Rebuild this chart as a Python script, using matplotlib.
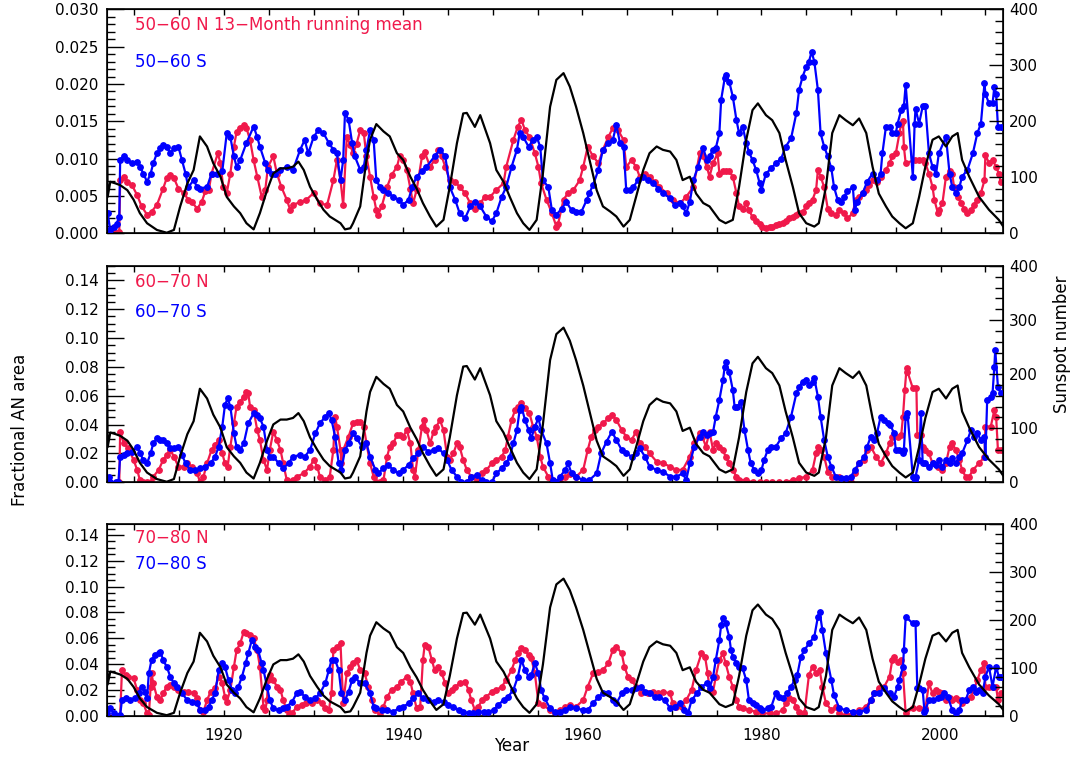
import matplotlib
matplotlib.use('Agg')
import matplotlib.pyplot as plt
from matplotlib.ticker import MultipleLocator, FormatStrFormatter

plt.rcParams['font.family'] = ['DejaVu Sans']

RED = '#F0194B'
BLUE = '#0000FF'

# ---------------- data ----------------
# 13-month smoothed sunspot number (right axis)
SSN = [(1906.95,178),(1907.0,65),(1907.3,92),(1907.9,89),(1908.4,86),(1909.2,77),(1909.9,60),(1910.6,36),
       (1911.4,18),(1912.5,6),(1913.6,1),(1914.4,6),(1915.1,48),(1915.9,89),(1916.6,113),(1917.3,173),
       (1918.1,155),(1918.8,125),(1919.6,101),(1920.3,65),(1921.1,48),(1921.8,36),(1922.5,18),(1923.3,7),
       (1924.0,36),(1924.8,77),(1925.5,107),(1926.3,116),(1927.0,116),(1927.7,119),(1928.3,128),(1928.9,113),
       (1929.6,83),(1930.4,60),(1931.1,42),(1931.8,30),(1933.0,18),(1933.5,7),(1934.1,9),(1934.4,18),
       (1935.2,48),(1935.9,131),(1936.3,167),(1937.0,195),(1937.8,182),(1938.5,173),(1939.3,143),(1940.0,131),
       (1940.8,101),(1941.5,80),(1942.2,54),(1943.0,30),(1943.7,12),(1944.5,24),(1945.2,83),(1946.0,161),
       (1946.7,214),(1947.1,215),(1948.0,190),(1948.6,211),(1949.3,179),(1949.7,161),(1950.4,113),(1951.2,92),
       (1951.9,65),(1952.7,36),(1953.4,18),(1954.1,6),(1954.9,24),(1955.6,107),(1956.4,226),(1957.1,274),
       (1957.9,286),(1958.6,262),(1959.3,226),(1960.1,179),(1960.8,131),(1961.6,77),(1962.3,48),(1963.1,39),
       (1963.8,30),(1964.6,12),(1965.3,24),(1966.0,65),(1966.8,113),(1967.5,143),(1968.3,155),(1969.0,149),
       (1969.8,146),(1970.5,131),(1971.2,95),(1972.0,101),(1972.7,71),(1973.5,54),(1974.2,48),(1975.3,24),
       (1976.0,18),(1976.8,24),(1977.5,83),(1978.3,167),(1979.0,220),(1979.6,232),(1980.5,211),(1981.2,202),
       (1982.0,179),(1982.7,131),(1983.5,83),(1984.2,36),(1985.0,18),(1985.9,12),(1986.4,18),(1987.2,83),
       (1987.9,179),(1988.7,211),(1989.4,202),(1990.2,193),(1990.9,205),(1991.7,179),(1992.4,119),(1993.1,71),
       (1993.9,48),(1994.6,30),(1995.4,18),(1996.1,9),(1996.9,18),(1997.6,65),(1998.3,119),(1999.1,167),
       (1999.8,173),(2000.6,155),(2001.3,173),(2001.9,179),(2002.4,131),(2003.2,101),(2004.3,65),(2005.4,42),
       (2006.5,24),(2007.0,12)]

# 50-60 degrees, north and south (fractional AN area)
N5060 = [(1906.9,.0002),(1907.7,.0002),(1908.3,.0002),(1908.4,.0071),(1908.8,.0076),(1909.2,.0069),(1909.7,.0065),
         (1910.3,.0051),(1910.8,.0036),(1911.4,.0025),(1911.9,.0029),(1912.5,.0038),(1913.2,.0060),(1913.6,.0074),
         (1914.0,.0078),(1914.4,.0074),(1914.9,.0060),(1915.5,.0054),(1916.0,.0045),(1916.4,.0042),(1917.0,.0033),
         (1917.5,.0042),(1917.9,.0056),(1918.3,.0058),(1918.6,.0080),(1919.3,.0107),(1919.6,.0094),(1919.9,.0062),
         (1920.3,.0054),(1920.7,.0080),(1921.1,.0116),(1921.4,.0136),(1921.8,.0141),(1922.2,.0145),(1922.5,.0141),
         (1922.9,.0125),(1923.3,.0098),(1923.7,.0076),(1924.2,.0049),(1924.6,.0058),(1924.9,.0089),(1925.5,.0103),
         (1925.9,.0080),(1926.4,.0062),(1927.0,.0045),(1927.4,.0031),(1927.7,.0038),(1928.5,.0042),(1929.2,.0045),
         (1930.0,.0054),(1930.7,.0040),(1931.5,.0038),(1932.2,.0071),(1932.6,.0098),(1933.0,.0071),(1933.3,.0038),
         (1933.7,.0129),(1934.1,.0118),(1934.4,.0107),(1934.8,.0120),(1935.2,.0138),(1935.6,.0134),(1935.9,.0103),
         (1936.3,.0076),(1936.7,.0049),(1937.0,.0031),(1937.2,.0025),(1937.6,.0036),(1938.2,.0062),(1938.7,.0078),
         (1939.3,.0089),(1939.6,.0103),(1940.0,.0098),(1940.4,.0085),(1940.8,.0060),(1941.1,.0040),(1941.5,.0058),
         (1942.1,.0103),(1942.4,.0109),(1943.0,.0089),(1943.5,.0098),(1943.9,.0112),(1944.3,.0103),(1944.7,.0089),
         (1945.2,.0071),(1945.8,.0069),(1946.3,.0062),(1946.9,.0054),(1947.5,.0040),(1948.0,.0033),(1948.6,.0040),
         (1949.1,.0049),(1949.7,.0049),(1950.4,.0058),(1951.2,.0067),(1951.5,.0089),(1952.3,.0125),(1952.8,.0143),
         (1953.2,.0152),(1953.6,.0138),(1954.1,.0129),(1954.7,.0107),(1955.1,.0089),(1955.4,.0067),(1956.0,.0045),
         (1956.6,.0027),(1957.1,.0009),(1957.3,.0013),(1957.9,.0045),(1958.4,.0054),(1959.0,.0058),(1959.7,.0071),
         (1960.1,.0089),(1960.6,.0116),(1961.2,.0103),(1961.8,.0094),(1962.3,.0112),(1962.9,.0129),(1963.4,.0141),
         (1964.0,.0138),(1964.6,.0125),(1964.9,.0089),(1965.5,.0098),(1966.0,.0089),(1966.4,.0076),(1967.0,.0080),
         (1967.5,.0076),(1968.1,.0069),(1968.6,.0062),(1969.4,.0054),(1970.1,.0045),(1970.9,.0040),(1971.6,.0049),
         (1972.4,.0062),(1973.1,.0107),(1973.5,.0103),(1973.9,.0089),(1974.2,.0076),(1974.6,.0094),(1975.1,.0107),
         (1975.3,.0080),(1975.7,.0083),(1976.0,.0083),(1976.4,.0083),(1976.8,.0076),(1977.2,.0054),(1977.5,.0036),
         (1977.9,.0033),(1978.3,.0040),(1978.6,.0031),(1979.0,.0022),(1979.4,.0016),(1979.8,.0013),(1980.1,.0009),
         (1980.5,.0007),(1980.9,.0008),(1981.2,.0009),(1981.6,.0011),(1982.0,.0013),(1982.4,.0014),(1982.7,.0016),
         (1983.1,.0020),(1983.5,.0022),(1983.9,.0025),(1984.2,.0027),(1984.6,.0029),(1985.0,.0036),(1985.3,.0040),
         (1985.7,.0045),(1986.1,.0058),(1986.3,.0085),(1986.6,.0076),(1987.0,.0062),(1987.4,.0033),(1987.8,.0027),
         (1988.3,.0025),(1988.7,.0031),(1989.2,.0027),(1989.6,.0020),(1990.2,.0027),(1990.5,.0045),(1990.9,.0049),
         (1991.3,.0054),(1991.7,.0058),(1992.0,.0065),(1992.4,.0071),(1992.9,.0069),(1993.3,.0076),(1993.9,.0085),
         (1994.3,.0094),(1994.6,.0103),(1995.0,.0107),(1995.4,.0134),(1995.6,.0147),(1995.8,.0150),(1995.9,.0116),
         (1996.1,.0094),(1997.1,.0098),(1997.6,.0098),(1998.0,.0098),(1998.3,.0094),(1998.7,.0080),(1999.1,.0062),
         (1999.3,.0045),(1999.7,.0027),(1999.8,.0031),(2000.2,.0040),(2000.6,.0076),(2001.0,.0083),(2001.3,.0080),
         (2001.5,.0062),(2001.9,.0049),(2002.3,.0040),(2002.6,.0033),(2003.0,.0027),(2003.4,.0031),(2003.7,.0038),
         (2004.1,.0045),(2004.5,.0054),(2004.9,.0071),(2005.0,.0105),(2005.4,.0094),(2005.8,.0098),(2006.2,.0089),
         (2006.5,.0080),(2006.7,.0069)]

S5060 = [(1906.9,.0004),(1907.0,.0027),(1907.3,.0004),(1907.7,.0009),(1908.0,.0013),(1908.3,.0022),(1908.4,.0098),
         (1908.8,.0103),(1909.2,.0098),(1909.7,.0094),(1910.3,.0096),(1910.6,.0089),(1911.0,.0080),(1911.4,.0069),
         (1911.8,.0080),(1912.1,.0094),(1912.5,.0107),(1912.9,.0114),(1913.2,.0118),(1913.6,.0116),(1914.0,.0107),
         (1914.4,.0114),(1914.9,.0116),(1915.3,.0098),(1915.7,.0080),(1916.0,.0062),(1916.6,.0071),(1917.0,.0062),
         (1917.3,.0060),(1918.1,.0062),(1918.6,.0080),(1919.2,.0080),(1919.8,.0083),(1920.3,.0134),(1920.7,.0129),
         (1921.1,.0103),(1921.4,.0089),(1921.8,.0098),(1922.5,.0121),(1923.3,.0143),(1923.7,.0129),(1924.0,.0116),
         (1924.6,.0094),(1924.9,.0085),(1925.3,.0080),(1925.7,.0080),(1926.3,.0085),(1927.0,.0089),(1927.7,.0085),
         (1928.5,.0112),(1929.0,.0125),(1929.4,.0107),(1930.0,.0129),(1930.5,.0138),(1931.1,.0134),(1931.7,.0121),
         (1932.2,.0112),(1932.6,.0107),(1933.0,.0071),(1933.3,.0098),(1933.5,.0161),(1933.9,.0152),(1934.3,.0121),
         (1934.6,.0103),(1935.2,.0085),(1935.6,.0089),(1935.9,.0112),(1936.3,.0138),(1936.7,.0125),(1937.0,.0071),
         (1937.4,.0062),(1937.8,.0058),(1938.3,.0054),(1938.9,.0049),(1939.5,.0045),(1940.0,.0038),(1940.6,.0045),
         (1941.0,.0062),(1941.5,.0076),(1942.1,.0083),(1942.6,.0089),(1943.5,.0103),(1944.1,.0112),(1944.7,.0103),
         (1945.2,.0062),(1945.8,.0045),(1946.3,.0027),(1946.9,.0020),(1947.5,.0036),(1948.0,.0042),(1948.6,.0036),
         (1949.3,.0022),(1949.9,.0016),(1950.4,.0027),(1951.0,.0049),(1951.5,.0062),(1952.1,.0089),(1952.7,.0112),
         (1953.0,.0134),(1953.4,.0129),(1954.0,.0116),(1954.5,.0125),(1954.9,.0129),(1955.3,.0116),(1955.6,.0071),
         (1956.2,.0062),(1956.6,.0031),(1957.1,.0025),(1957.7,.0033),(1958.2,.0042),(1958.8,.0031),(1959.3,.0029),
         (1959.9,.0029),(1960.5,.0045),(1960.8,.0054),(1961.2,.0065),(1961.8,.0085),(1962.3,.0112),(1962.9,.0121),
         (1963.4,.0125),(1963.8,.0145),(1964.2,.0121),(1964.6,.0116),(1964.9,.0058),(1965.3,.0058),(1965.7,.0062),
         (1966.2,.0071),(1966.8,.0076),(1967.3,.0071),(1967.9,.0067),(1968.5,.0060),(1969.0,.0054),(1969.8,.0047),
         (1970.3,.0038),(1970.9,.0040),(1971.2,.0036),(1971.6,.0027),(1972.0,.0042),(1972.4,.0071),(1972.9,.0089),
         (1973.5,.0114),(1973.9,.0098),(1974.2,.0103),(1974.6,.0112),(1974.9,.0114),(1975.3,.0134),(1975.5,.0179),
         (1975.9,.0208),(1976.0,.0212),(1976.4,.0203),(1976.8,.0183),(1977.2,.0152),(1977.5,.0134),(1977.9,.0143),
         (1978.3,.0121),(1978.6,.0109),(1979.0,.0098),(1979.4,.0085),(1979.8,.0067),(1980.0,.0058),(1980.5,.0080),
         (1981.1,.0087),(1981.6,.0094),(1982.2,.0100),(1982.7,.0116),(1983.3,.0127),(1983.9,.0161),(1984.2,.0192),
         (1984.6,.0210),(1985.0,.0223),(1985.3,.0230),(1985.6,.0243),(1985.9,.0230),(1986.3,.0192),(1986.6,.0134),
         (1987.0,.0116),(1987.4,.0103),(1987.8,.0087),(1988.1,.0062),(1988.5,.0045),(1988.9,.0042),(1989.2,.0049),
         (1989.6,.0056),(1990.2,.0062),(1990.4,.0031),(1990.7,.0042),(1991.3,.0054),(1991.8,.0069),(1992.4,.0080),
         (1992.9,.0071),(1993.3,.0080),(1993.5,.0107),(1993.9,.0143),(1994.3,.0143),(1994.6,.0134),(1995.0,.0134),
         (1995.2,.0147),(1995.6,.0165),(1995.9,.0170),(1996.1,.0199),(1996.9,.0076),(1997.1,.0147),(1997.2,.0167),
         (1997.6,.0147),(1998.0,.0170),(1998.3,.0170),(1998.7,.0107),(1999.1,.0089),(1999.5,.0080),(1999.8,.0107),
         (2000.6,.0129),(2001.0,.0080),(2001.3,.0062),(2001.7,.0054),(2002.1,.0062),(2002.4,.0076),(2003.0,.0085),
         (2003.6,.0107),(2004.1,.0134),(2004.5,.0147),(2004.9,.0201),(2005.0,.0187),(2005.4,.0174),(2005.8,.0174),
         (2006.0,.0196),(2006.2,.0187),(2006.4,.0143),(2006.7,.0143)]

# 60-70 degrees
N6070 = [(1906.9,.0),(1908.3,.0),(1908.4,.0351),(1908.8,.0270),(1909.3,.0236),(1909.9,.0155),(1910.3,.0086),
         (1910.6,.0016),(1911.0,.0),(1911.4,.0),(1911.8,.0),(1912.1,.0039),(1912.7,.0086),(1913.2,.0155),
         (1913.6,.0190),(1914.0,.0224),(1914.4,.0178),(1914.9,.0109),(1915.5,.0109),(1915.9,.0132),(1916.4,.0109),
         (1917.0,.0062),(1917.3,.0005),(1917.7,.0039),(1918.1,.0132),(1918.6,.0224),(1919.0,.0259),(1919.4,.0293),
         (1919.8,.0201),(1920.1,.0132),(1920.4,.0109),(1920.7,.0247),(1921.1,.0409),(1921.4,.0525),(1921.8,.0559),
         (1922.2,.0594),(1922.5,.0628),(1922.7,.0617),(1922.9,.0525),(1923.3,.0501),(1923.7,.0363),(1924.0,.0293),
         (1924.4,.0155),(1924.8,.0086),(1925.1,.0224),(1925.5,.0351),(1925.9,.0293),(1926.3,.0224),(1926.6,.0132),
         (1927.0,.0016),(1927.4,.0),(1927.7,.0016),(1928.1,.0039),(1928.9,.0062),(1929.6,.0109),(1930.0,.0155),
         (1930.4,.0109),(1930.7,.0039),(1931.3,.0016),(1931.8,.0039),(1932.2,.0224),(1932.4,.0455),(1932.6,.0386),
         (1933.0,.0224),(1933.1,.0132),(1933.3,.0224),(1933.9,.0317),(1934.4,.0409),(1934.8,.0421),(1935.2,.0421),
         (1935.6,.0386),(1935.9,.0270),(1936.3,.0132),(1936.7,.0039),(1937.0,.0),(1937.4,.0),(1937.8,.0016),
         (1938.2,.0178),(1938.5,.0247),(1938.9,.0270),(1939.3,.0328),(1939.6,.0328),(1940.0,.0317),(1940.4,.0363),
         (1940.8,.0270),(1941.1,.0086),(1941.3,.0039),(1941.7,.0224),(1942.1,.0386),(1942.3,.0432),(1942.6,.0363),
         (1943.0,.0270),(1943.4,.0351),(1943.7,.0386),(1944.1,.0432),(1944.5,.0363),(1944.9,.0178),(1945.2,.0155),
         (1945.6,.0201),(1946.0,.0270),(1946.3,.0247),(1946.7,.0155),(1947.1,.0086),(1947.6,.0039),(1948.2,.0016),
         (1948.8,.0062),(1949.3,.0086),(1949.9,.0132),(1950.4,.0155),(1951.0,.0178),(1951.4,.0224),(1951.7,.0317),
         (1952.1,.0432),(1952.5,.0501),(1952.8,.0525),(1953.2,.0548),(1953.6,.0513),(1954.1,.0478),(1954.5,.0386),
         (1954.9,.0317),(1955.3,.0178),(1955.6,.0109),(1956.2,.0039),(1956.6,.0),(1957.1,.0),(1957.5,.0),
         (1958.1,.0039),(1958.6,.0058),(1959.3,.0039),(1960.1,.0086),(1960.6,.0224),(1961.0,.0317),(1961.4,.0363),
         (1961.8,.0386),(1962.3,.0409),(1962.9,.0444),(1963.3,.0467),(1963.8,.0432),(1964.4,.0363),(1964.9,.0317),
         (1965.5,.0293),(1966.0,.0351),(1966.4,.0270),(1967.0,.0247),(1967.5,.0201),(1968.3,.0143),(1969.0,.0132),
         (1969.8,.0109),(1970.5,.0086),(1971.2,.0086),(1972.0,.0178),(1972.5,.0270),(1973.1,.0340),(1973.4,.0317),
         (1973.8,.0247),(1974.2,.0351),(1974.6,.0224),(1974.9,.0270),(1975.3,.0247),(1975.7,.0224),(1976.0,.0178),
         (1976.4,.0132),(1976.8,.0086),(1977.2,.0039),(1977.5,.0016),(1978.3,.0016),(1979.0,.0),(1979.8,.0),
         (1980.5,.0),(1981.2,.0),(1982.0,.0),(1982.7,.0),(1983.5,.0016),(1984.2,.0028),(1985.0,.0039),
         (1985.7,.0086),(1986.1,.0201),(1986.3,.0247),(1986.6,.0224),(1987.0,.0178),(1987.4,.0074),(1987.9,.0039),
         (1988.7,.0039),(1989.4,.0005),(1990.0,.0),(1990.4,.0062),(1990.9,.0132),(1991.5,.0155),(1991.8,.0224),
         (1992.2,.0247),(1992.8,.0178),(1993.3,.0132),(1993.9,.0201),(1994.3,.0270),(1994.6,.0317),(1995.2,.0317),
         (1995.6,.0328),(1995.8,.0455),(1996.0,.0640),(1996.2,.0790),(1996.3,.0767),(1996.9,.0652),(1997.3,.0652),
         (1997.4,.0328),(1997.8,.0328),(1998.0,.0247),(1998.3,.0224),(1998.7,.0201),(1999.1,.0132),(1999.7,.0109),
         (2000.2,.0086),(2000.6,.0132),(2001.0,.0247),(2001.3,.0270),(2001.7,.0224),(2002.1,.0155),(2002.4,.0086),
         (2002.8,.0039),(2003.2,.0039),(2003.6,.0086),(2004.3,.0132),(2004.9,.0178),(2005.0,.0386),(2005.6,.0386),
         (2006.0,.0501),(2006.2,.0455),(2006.4,.0224),(2006.7,.0224)]

S6070 = [(1906.9,.0016),(1907.1,.0039),(1907.3,.0),(1907.9,.0),(1908.2,.0),(1908.4,.0178),(1908.8,.0190),
         (1909.2,.0201),(1909.7,.0213),(1910.3,.0247),(1910.6,.0201),(1911.0,.0155),(1911.4,.0132),(1911.8,.0201),
         (1912.1,.0270),(1912.5,.0305),(1912.9,.0293),(1913.2,.0293),(1913.6,.0270),(1914.0,.0236),(1914.4,.0236),
         (1914.9,.0247),(1915.3,.0190),(1915.7,.0132),(1916.2,.0086),(1916.8,.0086),(1917.3,.0097),(1917.9,.0109),
         (1918.5,.0132),(1919.0,.0178),(1919.4,.0247),(1919.8,.0386),(1920.1,.0536),(1920.4,.0582),(1920.7,.0525),
         (1921.1,.0340),(1921.4,.0247),(1921.8,.0224),(1922.2,.0270),(1922.7,.0409),(1923.3,.0478),(1923.7,.0467),
         (1924.0,.0444),(1924.4,.0386),(1924.8,.0224),(1925.1,.0178),(1925.5,.0178),(1926.1,.0132),(1926.6,.0097),
         (1927.2,.0132),(1927.7,.0178),(1928.5,.0190),(1929.0,.0178),(1929.6,.0224),(1930.2,.0340),(1930.7,.0409),
         (1931.3,.0455),(1931.7,.0478),(1932.0,.0432),(1932.4,.0317),(1932.8,.0132),(1933.1,.0086),(1933.5,.0224),
         (1933.9,.0270),(1934.4,.0340),(1934.8,.0305),(1935.4,.0247),(1935.9,.0270),(1936.3,.0178),(1936.9,.0086),
         (1937.2,.0062),(1937.8,.0097),(1938.3,.0120),(1938.9,.0086),(1939.5,.0062),(1940.0,.0086),(1940.6,.0120),
         (1941.1,.0166),(1941.7,.0201),(1942.2,.0247),(1942.8,.0213),(1943.4,.0224),(1943.9,.0236),(1944.5,.0201),
         (1944.9,.0155),(1945.4,.0086),(1946.0,.0039),(1946.5,.0005),(1947.1,.0),(1947.6,.0039),(1948.2,.0051),
         (1948.8,.0016),(1949.3,.0005),(1949.9,.0),(1950.4,.0062),(1951.0,.0097),(1951.5,.0132),(1951.9,.0178),
         (1952.3,.0270),(1952.7,.0363),(1953.0,.0501),(1953.2,.0525),(1953.6,.0432),(1954.0,.0363),(1954.3,.0305),
         (1954.7,.0386),(1955.1,.0444),(1955.4,.0363),(1956.0,.0270),(1956.4,.0132),(1956.7,.0016),(1957.1,.0),
         (1957.5,.0039),(1958.1,.0086),(1958.4,.0132),(1958.8,.0062),(1959.3,.0039),(1960.1,.0016),(1960.8,.0016),
         (1961.6,.0062),(1962.1,.0201),(1962.7,.0282),(1963.3,.0351),(1963.8,.0293),(1964.4,.0224),(1964.9,.0201),
         (1965.5,.0178),(1966.0,.0201),(1966.4,.0236),(1967.0,.0178),(1967.5,.0109),(1968.3,.0086),(1969.0,.0074),
         (1969.8,.0039),(1970.5,.0039),(1971.2,.0062),(1971.6,.0016),(1972.0,.0132),(1972.5,.0247),(1973.1,.0317),
         (1973.5,.0351),(1973.9,.0328),(1974.2,.0340),(1974.6,.0351),(1974.9,.0455),(1975.3,.0571),(1975.7,.0709),
         (1975.9,.0802),(1976.0,.0837),(1976.4,.0767),(1976.8,.0640),(1977.0,.0525),(1977.3,.0525),(1977.7,.0559),
         (1978.1,.0363),(1978.5,.0224),(1978.8,.0132),(1979.2,.0086),(1979.6,.0062),(1980.0,.0086),(1980.3,.0155),
         (1980.7,.0224),(1981.1,.0247),(1981.6,.0247),(1982.2,.0305),(1982.7,.0340),(1983.3,.0455),(1983.9,.0617),
         (1984.2,.0663),(1984.6,.0698),(1985.0,.0709),(1985.3,.0675),(1985.7,.0698),(1985.9,.0721),(1986.3,.0594),
         (1986.6,.0455),(1987.0,.0293),(1987.4,.0178),(1987.8,.0109),(1988.3,.0039),(1988.9,.0028),(1989.4,.0028),
         (1990.0,.0039),(1990.4,.0086),(1990.9,.0132),(1991.5,.0178),(1991.8,.0247),(1992.2,.0317),(1992.6,.0293),
         (1992.9,.0340),(1993.3,.0455),(1993.7,.0432),(1994.1,.0409),(1994.4,.0397),(1994.8,.0340),(1995.0,.0224),
         (1995.4,.0224),(1995.8,.0201),(1995.9,.0224),(1996.1,.0455),(1996.3,.0478),(1996.9,.0039),(1997.1,.0016),
         (1997.2,.0039),(1997.6,.0155),(1997.8,.0478),(1998.0,.0132),(1998.3,.0132),(1998.7,.0109),(1999.1,.0132),
         (1999.5,.0120),(1999.8,.0155),(2000.2,.0109),(2000.6,.0155),(2001.0,.0132),(2001.3,.0166),(2001.7,.0132),
         (2002.1,.0178),(2002.4,.0201),(2003.0,.0293),(2003.4,.0363),(2003.7,.0317),(2004.1,.0340),(2004.5,.0293),
         (2004.9,.0317),(2005.0,.0178),(2005.2,.0571),(2005.6,.0594),(2005.8,.0617),(2006.0,.0802),(2006.1,.0917),
         (2006.4,.0663),(2006.7,.0617)]

# 70-80 degrees
N7080 = [(1906.9,.0),(1908.4,.0),(1908.6,.0354),(1909.0,.0315),(1909.3,.0302),(1909.9,.0289),(1910.3,.0199),
         (1910.6,.0121),(1911.0,.0095),(1911.4,.0018),(1911.6,.0005),(1911.8,.0225),(1911.9,.0328),(1912.1,.0250),
         (1912.5,.0147),(1912.9,.0121),(1913.2,.0173),(1913.6,.0225),(1914.0,.0237),(1914.4,.0225),(1914.9,.0199),
         (1915.5,.0186),(1916.0,.0186),(1916.6,.0173),(1917.0,.0134),(1917.3,.0044),(1917.7,.0031),(1918.1,.0121),
         (1918.5,.0186),(1919.0,.0212),(1919.4,.0302),(1919.8,.0250),(1920.1,.0147),(1920.3,.0108),(1920.7,.0199),
         (1921.1,.0379),(1921.4,.0508),(1921.8,.0560),(1922.2,.0650),(1922.5,.0637),(1922.9,.0625),(1923.3,.0599),
         (1923.7,.0508),(1924.0,.0379),(1924.4,.0070),(1924.6,.0044),(1924.8,.0121),(1924.9,.0276),(1925.1,.0315),
         (1925.5,.0276),(1925.9,.0225),(1926.3,.0199),(1926.6,.0121),(1927.0,.0044),(1927.2,.0005),(1927.6,.0018),
         (1928.1,.0070),(1928.7,.0083),(1929.2,.0095),(1929.8,.0095),(1930.4,.0121),(1930.9,.0095),(1931.3,.0057),
         (1931.7,.0044),(1932.0,.0173),(1932.2,.0508),(1932.6,.0534),(1933.0,.0560),(1933.3,.0095),(1933.7,.0328),
         (1934.1,.0379),(1934.4,.0405),(1934.8,.0431),(1935.2,.0354),(1935.7,.0328),(1936.1,.0225),(1936.5,.0121),
         (1936.9,.0044),(1937.4,.0005),(1937.8,.0070),(1938.2,.0147),(1938.7,.0199),(1939.3,.0225),(1939.8,.0263),
         (1940.4,.0302),(1940.8,.0263),(1941.1,.0173),(1941.5,.0057),(1941.9,.0070),(1942.2,.0431),(1942.4,.0547),
         (1942.8,.0534),(1943.2,.0431),(1943.5,.0354),(1943.9,.0379),(1944.3,.0328),(1944.7,.0250),(1945.0,.0173),
         (1945.4,.0199),(1945.8,.0225),(1946.3,.0250),(1946.9,.0263),(1947.3,.0199),(1947.6,.0121),(1948.0,.0044),
         (1948.4,.0070),(1948.8,.0121),(1949.3,.0147),(1949.9,.0186),(1950.4,.0199),(1951.0,.0225),(1951.5,.0276),
         (1952.1,.0354),(1952.5,.0431),(1952.8,.0483),(1953.2,.0521),(1953.6,.0508),(1954.0,.0470),(1954.3,.0444),
         (1954.7,.0328),(1955.1,.0095),(1955.6,.0083),(1956.4,.0044),(1956.9,.0018),(1957.5,.0044),(1958.1,.0070),
         (1958.6,.0083),(1959.3,.0070),(1960.1,.0121),(1960.6,.0225),(1961.2,.0328),(1961.8,.0341),(1962.3,.0354),
         (1962.9,.0405),(1963.4,.0508),(1963.8,.0534),(1964.4,.0483),(1964.7,.0379),(1965.1,.0302),(1965.5,.0276),
         (1966.0,.0225),(1966.6,.0173),(1967.3,.0173),(1967.9,.0186),(1968.5,.0173),(1969.0,.0186),(1969.8,.0173),
         (1970.1,.0095),(1970.5,.0070),(1971.1,.0070),(1971.6,.0121),(1972.2,.0199),(1972.7,.0354),(1973.3,.0483),
         (1973.7,.0457),(1974.0,.0328),(1974.2,.0199),(1974.6,.0186),(1974.9,.0302),(1975.3,.0431),(1975.7,.0483),
         (1976.0,.0405),(1976.4,.0302),(1976.8,.0225),(1977.2,.0121),(1977.5,.0070),(1977.9,.0057),(1978.6,.0044),
         (1979.4,.0031),(1980.1,.0018),(1980.9,.0018),(1981.6,.0018),(1982.4,.0044),(1982.7,.0095),(1983.1,.0134),
         (1983.5,.0121),(1983.9,.0070),(1984.2,.0031),(1984.8,.0018),(1985.3,.0315),(1985.7,.0379),(1986.1,.0328),
         (1986.5,.0354),(1986.8,.0225),(1987.2,.0095),(1987.8,.0044),(1988.3,.0070),(1988.7,.0018),(1989.4,.0005),
         (1990.2,.0018),(1990.9,.0044),(1991.7,.0070),(1992.2,.0121),(1992.6,.0173),(1993.1,.0212),(1993.7,.0225),
         (1994.3,.0302),(1994.6,.0431),(1994.8,.0457),(1995.2,.0418),(1995.6,.0431),(1995.8,.0328),(1996.1,.0018),
         (1996.9,.0057),(1997.6,.0057),(1998.3,.0057),(1998.7,.0250),(1999.1,.0173),(1999.5,.0199),(1999.8,.0186),
         (2000.2,.0173),(2000.6,.0121),(2001.0,.0134),(2001.3,.0121),(2001.7,.0134),(2002.1,.0121),(2002.4,.0095),
         (2002.8,.0121),(2003.4,.0147),(2003.7,.0199),(2004.1,.0276),(2004.5,.0354),(2004.9,.0405),(2005.0,.0225),
         (2005.4,.0225),(2005.8,.0225),(2006.2,.0225),(2006.4,.0121),(2006.7,.0173)]

S7080 = [(1906.9,.0018),(1907.3,.0057),(1907.7,.0018),(1908.4,.0005),(1908.6,.0121),(1909.0,.0134),(1909.5,.0121),
         (1910.1,.0134),(1910.5,.0173),(1910.8,.0225),(1911.2,.0186),(1911.4,.0134),(1911.6,.0328),(1911.9,.0431),
         (1912.3,.0470),(1912.7,.0483),(1912.9,.0495),(1913.2,.0431),(1913.6,.0379),(1914.0,.0302),(1914.4,.0250),
         (1914.7,.0225),(1915.3,.0173),(1915.9,.0121),(1916.4,.0108),(1917.0,.0095),(1917.3,.0044),(1917.9,.0044),
         (1918.3,.0070),(1918.6,.0121),(1919.0,.0173),(1919.4,.0354),(1919.8,.0405),(1920.1,.0379),(1920.5,.0276),
         (1920.9,.0199),(1921.2,.0173),(1921.6,.0225),(1922.0,.0302),(1922.4,.0405),(1922.7,.0483),(1923.1,.0586),
         (1923.5,.0534),(1923.8,.0508),(1924.2,.0405),(1924.4,.0354),(1924.8,.0225),(1925.1,.0121),(1925.5,.0057),
         (1926.1,.0044),(1926.6,.0057),(1927.0,.0070),(1927.6,.0108),(1928.1,.0173),(1928.5,.0186),(1929.0,.0147),
         (1929.6,.0121),(1930.2,.0134),(1930.7,.0173),(1931.3,.0250),(1931.7,.0354),(1932.0,.0431),(1932.4,.0431),
         (1932.8,.0354),(1933.1,.0173),(1933.5,.0121),(1933.9,.0186),(1934.3,.0276),(1934.6,.0302),(1935.2,.0250),
         (1935.7,.0250),(1936.3,.0173),(1936.7,.0070),(1937.0,.0057),(1937.6,.0044),(1938.2,.0044),(1938.9,.0031),
         (1939.5,.0057),(1940.0,.0070),(1940.6,.0095),(1941.1,.0134),(1941.7,.0173),(1942.2,.0134),(1942.8,.0121),
         (1943.4,.0108),(1943.9,.0121),(1944.5,.0108),(1945.0,.0083),(1945.6,.0070),(1946.2,.0044),(1946.7,.0031),
         (1947.3,.0018),(1947.8,.0018),(1948.4,.0031),(1949.0,.0031),(1949.5,.0031),(1950.1,.0044),(1950.6,.0083),
         (1951.2,.0121),(1951.7,.0147),(1952.3,.0199),(1952.8,.0302),(1953.2,.0431),(1953.6,.0354),(1954.0,.0302),
         (1954.3,.0315),(1954.7,.0405),(1955.1,.0328),(1955.4,.0199),(1955.8,.0134),(1956.4,.0057),(1956.9,.0031),
         (1957.5,.0031),(1958.1,.0044),(1958.6,.0070),(1959.3,.0057),(1960.1,.0044),(1960.6,.0044),(1961.2,.0095),
         (1961.8,.0147),(1962.3,.0173),(1962.9,.0173),(1963.4,.0121),(1963.8,.0095),(1964.4,.0173),(1964.9,.0199),
         (1965.5,.0199),(1966.0,.0212),(1966.6,.0225),(1967.0,.0186),(1967.5,.0173),(1968.1,.0147),(1968.6,.0147),
         (1969.2,.0121),(1969.8,.0057),(1970.3,.0070),(1970.9,.0095),(1971.4,.0044),(1971.8,.0018),(1972.2,.0121),
         (1972.8,.0173),(1973.3,.0225),(1973.9,.0250),(1974.2,.0212),(1974.6,.0302),(1974.9,.0431),(1975.3,.0586),
         (1975.5,.0702),(1975.7,.0754),(1976.0,.0715),(1976.4,.0612),(1976.6,.0508),(1976.8,.0457),(1977.2,.0405),
         (1977.5,.0379),(1977.9,.0366),(1978.3,.0276),(1978.6,.0121),(1979.0,.0095),(1979.4,.0083),(1979.8,.0057),
         (1980.1,.0044),(1980.7,.0057),(1981.1,.0070),(1981.6,.0173),(1982.0,.0147),(1982.4,.0134),(1982.9,.0173),
         (1983.3,.0225),(1983.7,.0276),(1984.0,.0315),(1984.4,.0457),(1984.8,.0508),(1985.3,.0560),(1985.9,.0612),
         (1986.3,.0766),(1986.5,.0805),(1986.8,.0663),(1987.2,.0483),(1987.8,.0276),(1988.1,.0160),(1988.7,.0057),
         (1989.4,.0044),(1990.2,.0031),(1990.9,.0031),(1991.7,.0044),(1992.2,.0121),(1992.6,.0173),(1993.1,.0173),
         (1993.7,.0212),(1994.3,.0173),(1994.8,.0147),(1995.2,.0225),(1995.4,.0276),(1995.8,.0379),(1995.9,.0508),
         (1996.1,.0766),(1996.9,.0715),(1997.2,.0715),(1997.4,.0212),(1997.6,.0212),(1998.0,.0199),(1998.2,.0031),
         (1998.3,.0044),(1998.7,.0121),(1999.1,.0121),(1999.7,.0134),(2000.0,.0147),(2000.4,.0173),(2000.8,.0147),
         (2001.3,.0044),(2001.7,.0018),(2002.1,.0044),(2002.4,.0121),(2002.8,.0121),(2003.2,.0199),(2003.6,.0225),
         (2003.9,.0186),(2004.3,.0199),(2004.7,.0173),(2005.0,.0302),(2005.4,.0379),(2005.8,.0225),(2006.2,.0379),
         (2006.5,.0302),(2006.7,.0302)]

LABELS = [("50\u221260 N 13\u2212Month running mean", "50\u221260 S"),
          ("60\u221270 N", "60\u221270 S"),
          ("70\u221280 N", "70\u221280 S")]
X_TICK_LABELS = ["1920", "1940", "1960", "1980", "2000"]

# ---------------- layout ----------------
W, H = 1075.0, 759.0
fig = plt.figure(figsize=(W / 100, H / 100), dpi=100)


def rect(x0, y0, x1, y1):
    return [x0 / W, 1 - y1 / H, (x1 - x0) / W, (y1 - y0) / H]


panels = [
    dict(box=(107, 9.3, 1003.3, 233.3), ytop=0.030, major=0.005, minor=0.001, fmt='%.3f',
         N=N5060, S=S5060, lab=LABELS[0], laby=(25, 62)),
    dict(box=(107, 266, 1003.3, 482.3), ytop=0.15, major=0.02, minor=0.005, fmt='%.2f',
         N=N6070, S=S6070, lab=LABELS[1], laby=(282, 312)),
    dict(box=(107, 524, 1003.3, 715.7), ytop=0.1485, major=0.02, minor=0.005, fmt='%.2f',
         N=N7080, S=S7080, lab=LABELS[2], laby=(538, 564)),
]

ssn_year, ssn_value = zip(*SSN)

for i, p in enumerate(panels):
    ax = fig.add_axes(rect(*p['box']))
    ny, nv = zip(*p['N'])
    sy, sv = zip(*p['S'])
    ax.plot(ny, nv, '-o', color=RED, lw=1.6, ms=3.9, mec=RED, mfc=RED, zorder=2)
    ax.plot(sy, sv, '-o', color=BLUE, lw=1.6, ms=3.9, mec=BLUE, mfc=BLUE, zorder=3)
    ax.set_xlim(1906.93, 2007.0)
    ax.yaxis.set_major_locator(MultipleLocator(p['major']))
    ax.yaxis.set_minor_locator(MultipleLocator(p['minor']))
    ax.yaxis.set_major_formatter(FormatStrFormatter(p['fmt']))
    ax.set_ylim(0, p['ytop'])
    ax.set_xticks([1920, 1940, 1960, 1980, 2000])
    ax.set_xticklabels(X_TICK_LABELS)
    ax.xaxis.set_minor_locator(MultipleLocator(5))
    ax.tick_params(axis='y', which='major', direction='in', length=12, width=1.0,
                   labelsize=11, pad=6, right=False)
    ax.tick_params(axis='y', which='minor', direction='in', length=6, width=1.0, right=False)
    ax.tick_params(axis='x', which='both', direction='in', length=4, width=1.0, top=True,
                   labelsize=11, pad=9, labelbottom=(i == 2))
    for s in ax.spines.values():
        s.set_linewidth(1.2)

    ax2 = ax.twinx()
    ax2.plot(ssn_year, ssn_value, color='black', lw=1.6, zorder=4)
    ax2.set_ylim(0, 400)
    ax2.set_xlim(1906.93, 2007.0)
    ax2.yaxis.set_major_locator(MultipleLocator(100))
    ax2.yaxis.set_minor_locator(MultipleLocator(20))
    ax2.tick_params(axis='y', which='major', direction='in', length=10, width=1.0,
                    labelsize=11, pad=4)
    ax2.tick_params(axis='y', which='minor', direction='in', length=6, width=1.0)

    fig.text(135 / W, 1 - p['laby'][0] / H, p['lab'][0], color=RED, fontsize=12, va='center', ha='left')
    fig.text(135 / W, 1 - p['laby'][1] / H, p['lab'][1], color=BLUE, fontsize=12, va='center', ha='left')

fig.text(20 / W, 1 - 430 / H, "Fractional AN area", rotation=90, fontsize=12, ha='center', va='center')
fig.text(1062 / W, 1 - 344 / H, "Sunspot number", rotation=90, fontsize=12, ha='center', va='center')
fig.text(512 / W, 1 - 746 / H, "Year", fontsize=12, ha='center', va='center')

fig.savefig('out.png', dpi=100)
